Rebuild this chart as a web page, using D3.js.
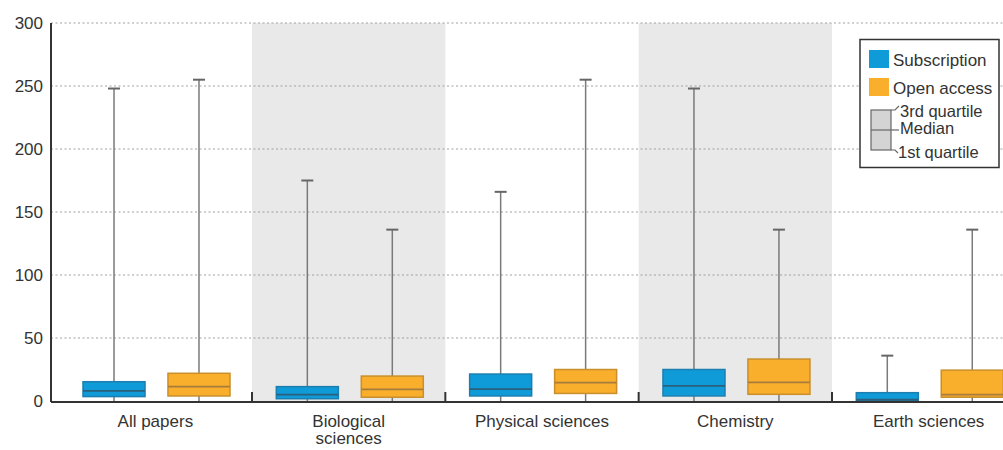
<!DOCTYPE html>
<html><head><meta charset="utf-8">
<script src="https://cdn.jsdelivr.net/npm/d3@7/dist/d3.min.js"></script>
<style>body{margin:0;background:#fff}svg{display:block;font-family:"Liberation Sans",Arial,sans-serif}</style>
</head><body><svg id="c" width="1003" height="450"></svg>
<script>
const categories = ["All papers", "Biological\nsciences", "Physical sciences", "Chemistry", "Earth sciences"];
const seriesNames = ["Subscription", "Open access"];
const subMin = [0, 0, 0, 0, 0];
const subQ1 = [3.5, 1.8, 4, 4, 0.3];
const subMedian = [8, 5, 9.5, 12, 1];
const subQ3 = [15.3, 11.4, 21.4, 25, 6.6];
const subMax = [248, 175, 166, 248, 36];
const oaMin = [0, 0, 0, 0, 0];
const oaQ1 = [4, 3, 6, 5.3, 3];
const oaMedian = [11.4, 9.3, 14.6, 14.8, 5];
const oaQ3 = [22, 19.8, 25, 33.3, 24.5];
const oaMax = [255, 136, 255, 136, 136];
const yTicks = [0, 50, 100, 150, 200, 250, 300];
const shadedBands = [false, true, false, true, false];

const colors = {"Subscription": "#0f9ad8", "Open access": "#f9ae2c"};
const strokes = {"Subscription": "#1d7fb0", "Open access": "#c98f2c"};
const medCol = {"Subscription": "#2a607c", "Open access": "#a87d3c"};
const FS = 17;

const svg = d3.select("#c");
const x0 = 51, yTop = 23, yBot = 401;
const x = d3.scaleBand().domain(categories).range([58.7, 1025.3]).padding(0);
const xs = d3.scaleBand().domain(seriesNames).range([24.3, 171.3]).paddingInner(0.27).paddingOuter(0);
const y = d3.scaleLinear().domain([0, 300]).range([yBot, yTop]);

// shaded bands
svg.append("g").selectAll("rect").data(categories.filter((c, i) => shadedBands[i])).join("rect")
  .attr("x", d => x(d)).attr("width", x.bandwidth()).attr("y", yTop).attr("height", yBot - yTop)
  .attr("fill", "#e9e9ea");

// gridlines
svg.append("g").selectAll("line").data(yTicks.filter(t => t > 0)).join("line")
  .attr("x1", x0).attr("x2", 1003).attr("y1", d => y(d)).attr("y2", d => y(d))
  .attr("stroke", "#a0a0a0").attr("stroke-width", 1.2).attr("stroke-dasharray", "2,2.5");

// y axis labels
svg.append("g").selectAll("text").data(yTicks).join("text")
  .attr("x", 43).attr("y", d => y(d)).attr("dy", "0.33em").attr("text-anchor", "end")
  .attr("font-size", FS).attr("fill", "#333").text(d => d);

// data
const rows = [];
categories.forEach((c, i) => {
  rows.push({cat: c, s: "Subscription", min: subMin[i], q1: subQ1[i], med: subMedian[i], q3: subQ3[i], max: subMax[i]});
  rows.push({cat: c, s: "Open access", min: oaMin[i], q1: oaQ1[i], med: oaMedian[i], q3: oaQ3[i], max: oaMax[i]});
});
const g = svg.append("g").selectAll("g").data(rows).join("g")
  .attr("transform", d => `translate(${x(d.cat) + xs(d.s)},0)`);
const bw = xs.bandwidth();
g.append("line").attr("x1", bw / 2).attr("x2", bw / 2).attr("y1", d => y(d.min)).attr("y2", d => y(d.max))
  .attr("stroke", "#7a7a7a").attr("stroke-width", 1.5);
g.append("line").attr("x1", bw / 2 - 6).attr("x2", bw / 2 + 6).attr("y1", d => y(d.max)).attr("y2", d => y(d.max))
  .attr("stroke", "#666").attr("stroke-width", 2);
g.append("rect").attr("x", 0).attr("width", bw).attr("y", d => y(d.q3)).attr("height", d => y(d.q1) - y(d.q3))
  .attr("fill", d => colors[d.s]).attr("stroke", d => strokes[d.s]).attr("stroke-width", 1.5);
g.append("line").attr("x1", 0).attr("x2", bw).attr("y1", d => y(d.med)).attr("y2", d => y(d.med))
  .attr("stroke", d => medCol[d.s]).attr("stroke-width", 1.8);

// axes lines
svg.append("line").attr("x1", x0).attr("x2", x0).attr("y1", yTop).attr("y2", yBot + 1).attr("stroke", "#333").attr("stroke-width", 2);
svg.append("line").attr("x1", x0).attr("x2", 1003).attr("y1", yBot + 1).attr("y2", yBot + 1).attr("stroke", "#333").attr("stroke-width", 2);
svg.append("g").selectAll("line").data(categories.slice(1)).join("line")
  .attr("x1", d => x(d)).attr("x2", d => x(d)).attr("y1", yBot - 9).attr("y2", yBot + 1)
  .attr("stroke", "#333").attr("stroke-width", 2);

// x labels
const xl = svg.append("g").selectAll("text").data(categories).join("text")
  .attr("x", d => x(d) + x.bandwidth() / 2).attr("y", 427).attr("text-anchor", "middle")
  .attr("font-size", FS).attr("fill", "#333");
xl.selectAll("tspan").data(d => d.split("\n")).join("tspan")
  .attr("x", function() { return d3.select(this.parentNode).attr("x"); })
  .attr("dy", (d, i) => i === 0 ? 0 : 17).text(d => d);

// legend
const lg = svg.append("g");
lg.append("rect").attr("x", 860).attr("y", 39.5).attr("width", 139).attr("height", 128)
  .attr("fill", "#fff").attr("stroke", "#333").attr("stroke-width", 1.5);
seriesNames.forEach((s, i) => {
  lg.append("rect").attr("x", 869).attr("y", 50 + i * 28).attr("width", 20).attr("height", 18).attr("fill", colors[s]);
  lg.append("text").attr("x", 893).attr("y", 66 + i * 28).attr("font-size", FS).attr("fill", "#333").text(s);
});
lg.append("rect").attr("x", 871).attr("y", 110).attr("width", 20).attr("height", 40)
  .attr("fill", "#d4d4d4").attr("stroke", "#666").attr("stroke-width", 1.2);
lg.append("polyline").attr("points", "891,110 895,110 899,106").attr("fill", "none").attr("stroke", "#666").attr("stroke-width", 1.2);
lg.append("line").attr("x1", 871).attr("x2", 899).attr("y1", 130).attr("y2", 130).attr("stroke", "#666").attr("stroke-width", 1.2);
lg.append("polyline").attr("points", "891,150 895,150 898,153").attr("fill", "none").attr("stroke", "#666").attr("stroke-width", 1.2);
[["3rd quartile", 900, 117], ["Median", 900, 134], ["1st quartile", 898, 158]].forEach(([t, tx, ty]) => {
  lg.append("text").attr("x", tx).attr("y", ty).attr("font-size", FS - 0.5).attr("fill", "#333").text(t);
});
</script></body></html>
